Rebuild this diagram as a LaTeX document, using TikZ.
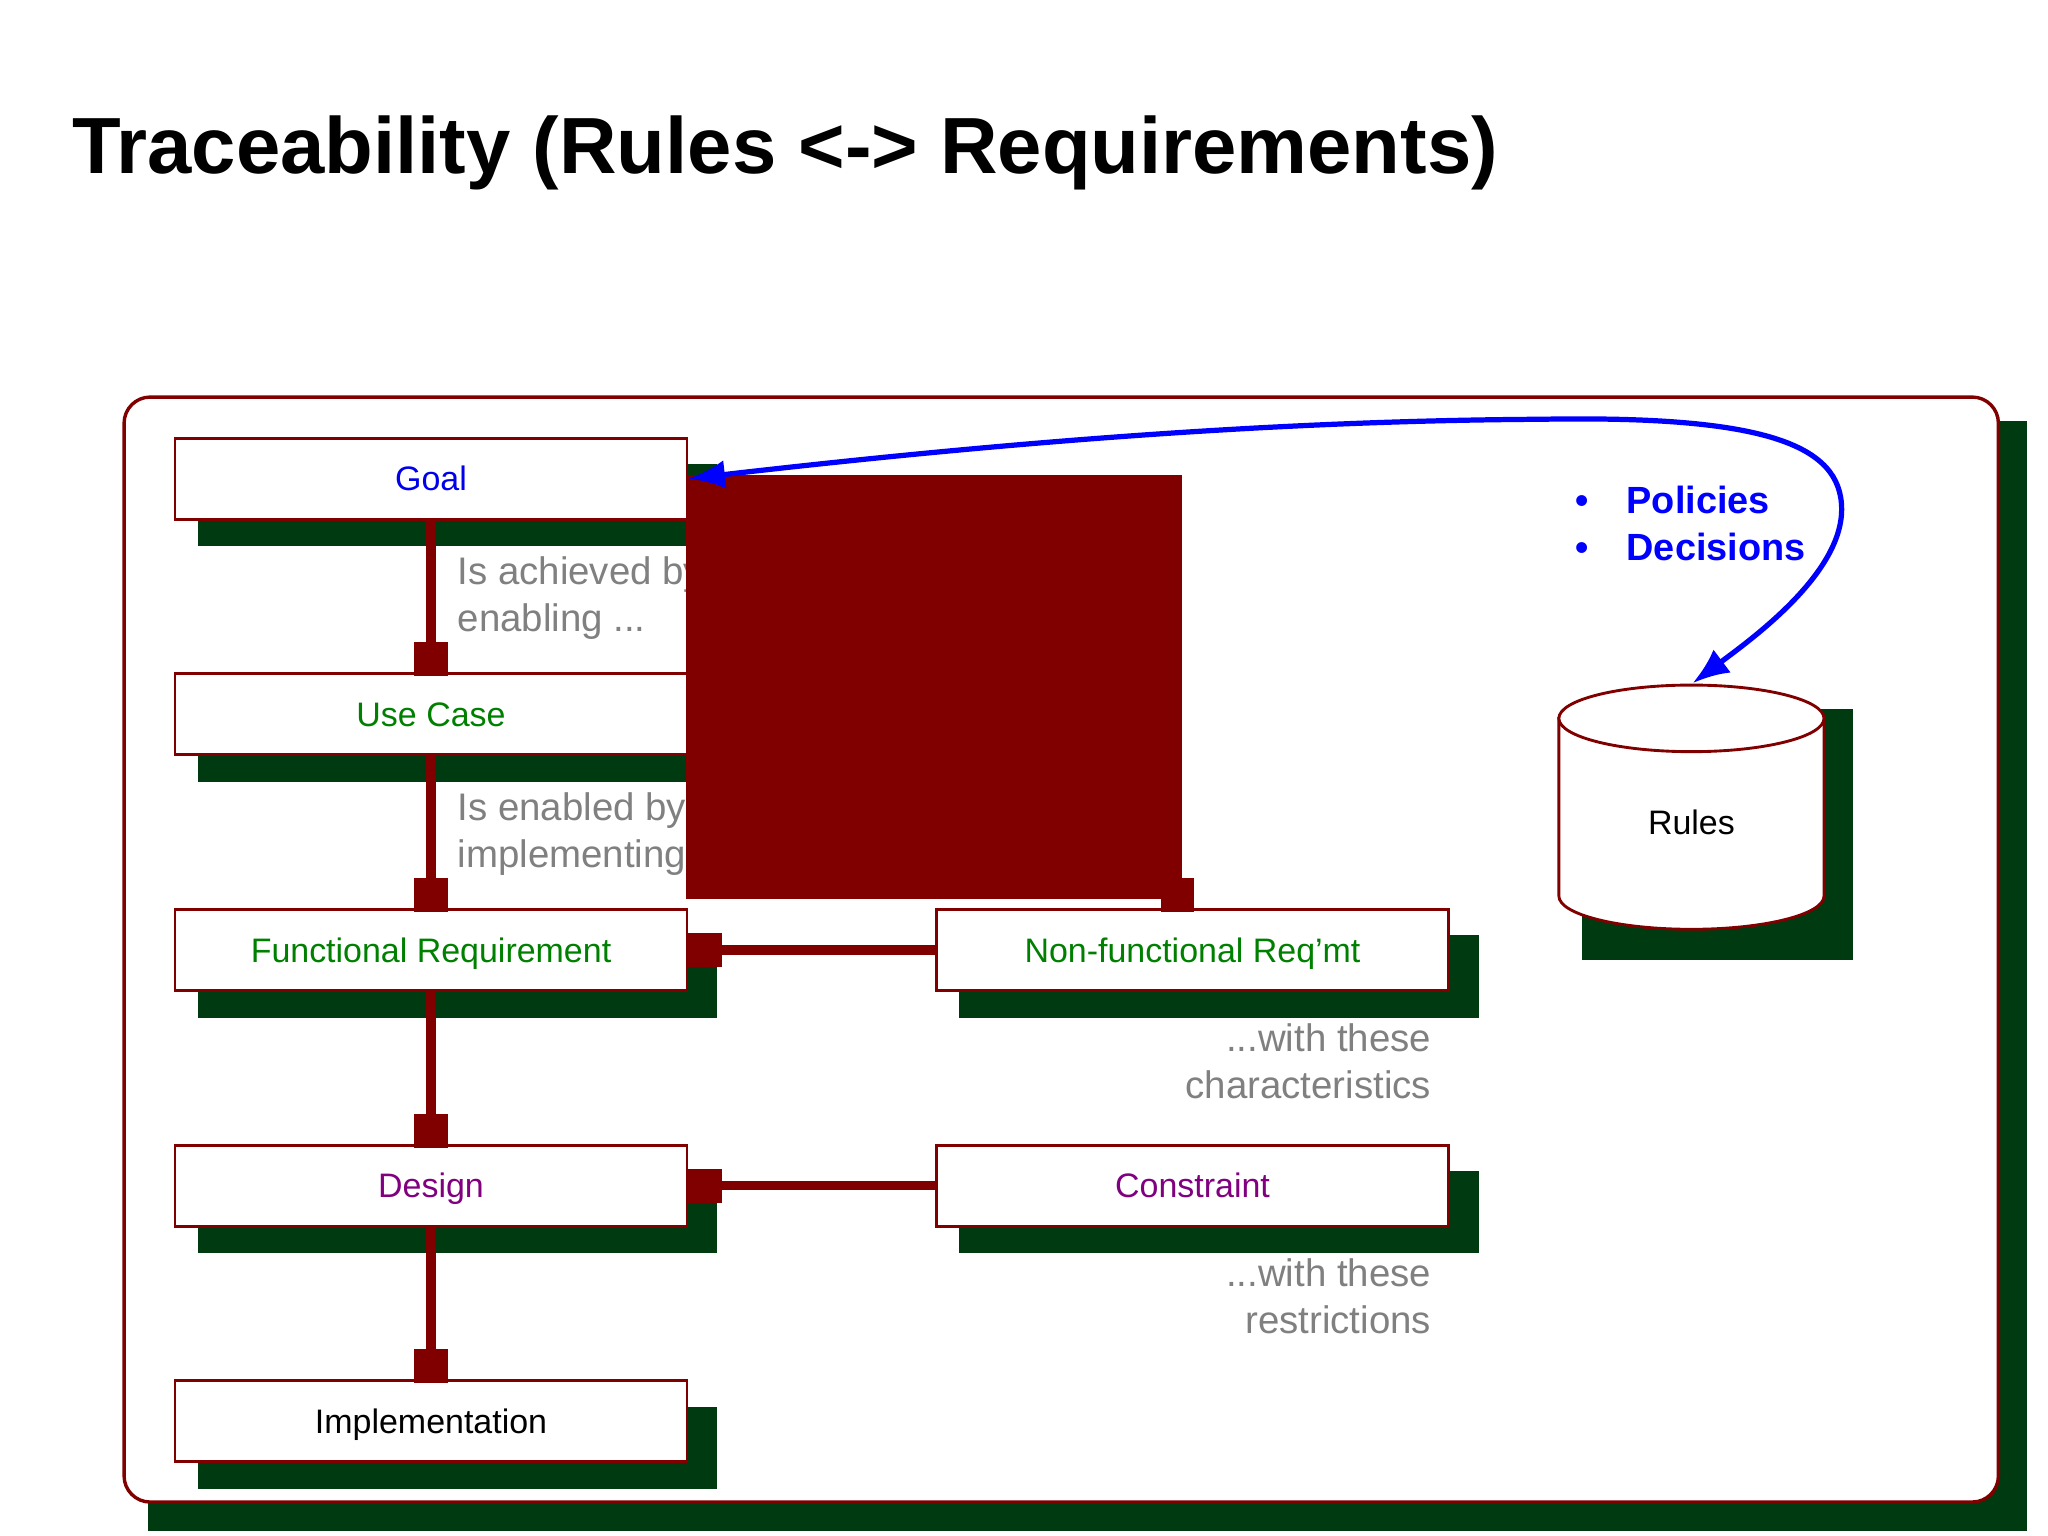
\documentclass[tikz,border=0pt]{standalone}
\usepackage{fontspec}
\setmainfont{Liberation Sans}
\usetikzlibrary{arrows.meta,positioning,shadows}

\definecolor{linkred}{RGB}{128,0,0}
\definecolor{shadowgreen}{RGB}{0,58,16}
\definecolor{labelgreen}{RGB}{0,128,0}
\definecolor{labelpurple}{RGB}{128,0,128}
\definecolor{notegray}{RGB}{128,128,128}
\definecolor{goalblue}{RGB}{0,0,235}

\tikzset{
  req/.style={draw=linkred, line width=1.1pt, fill=white, minimum width=196pt, minimum height=31pt,
    inner sep=0pt, text height=9.3pt, text depth=0pt, font=\fontsize{13}{15}\selectfont,
    drop shadow={shadow xshift=10pt, shadow yshift=-10pt, shadow scale=1.015, fill=shadowgreen, opacity=1}},
  link/.style={draw=linkred, line width=3.7pt, -{Square[length=13pt,width=13pt]}},
  vlink/.style={link, shorten >=-1.5pt},
  note/.style={text=notegray, inner sep=0pt, font=\fontsize{14.7}{18}\selectfont},
  store/.style={draw=linkred, line width=1.1pt, fill=white},
  policy/.style={draw=blue, line width=2pt, {Latex[length=14pt,width=11pt]}-{Latex[length=14pt,width=11pt]}},
  bulletitem/.style={text=blue, inner sep=0pt, anchor=base west, font=\bfseries\fontsize{14.5}{18}\selectfont},
  title/.style={inner sep=0pt, anchor=base west, font=\bfseries\fontsize{30.5}{36}\selectfont}
}

\begin{document}
\begin{tikzpicture}[x=0.5pt,y=-0.5pt,node distance=90.2pt and 291.5pt,on grid]
  \path[use as bounding box, fill=white] (0,0) rectangle (1568,1176);

  \node[title] (head) at (55,133) {Traceability (Rules <-> Requirements)};

  % frame
  \fill[shadowgreen] (113,322) rectangle (1552,1172);
  \draw[linkred, line width=1.3pt, fill=white, rounded corners=10pt] (95,304) rectangle (1530,1150);

  \node[req, text=goalblue]    (goal)     at (330,366.5) {Goal};
  \node[req, text=labelgreen]  (usecase)  [below=of goal] {Use Case};
  \node[req, text=labelgreen]  (fr)       [below=of usecase] {Functional Requirement};
  \node[req, text=labelpurple] (design)   [below=of fr] {Design};
  \node[req]                   (impl)     [below=of design] {Implementation};
  \node[req, text=labelgreen]  (nfr)      [right=of fr] {Non-functional Req’mt};
  \node[req, text=labelpurple] (con)      [right=of design] {Constraint};

  \node[note, anchor=north west, align=left]  (achieved) at (350,426) {Is achieved by\\enabling ...};
  \node[note, anchor=north west, align=left]  (enabled)  at (350,606.5) {Is enabled by\\implementing ...};
  \node[note, anchor=north east, align=right] (traits)   at (1096,783) {...with these\\characteristics};
  \node[note, anchor=north east, align=right] (limits)   at (1096,963) {...with these\\restrictions};

  \path (goal)    edge[vlink] (usecase)
        (usecase) edge[vlink] (fr)
        (fr)      edge[vlink] (design)
        (design)  edge[vlink] (impl)
        (nfr)     edge[link]  (fr)
        (con)     edge[link]  (design);

  % goal to non-functional
  \fill[linkred] ([shift={(-2,-2.5)}]goal.east) rectangle ([shift={(-8,-7)}]nfr.north);
  \coordinate (nfrdrop) at ([shift={(-11.5,-25)}]nfr.north);
  \draw[vlink] (nfrdrop) -- (nfrdrop |- nfr.north);

  % rules store
  \fill[shadowgreen] (1211,543) rectangle (1419,735);
  \filldraw[store] (1193.5,550) -- (1193.5,686) arc[start angle=180, end angle=360, x radius=50.75pt, y radius=12.75pt] -- (1396.5,550) -- cycle;
  \filldraw[store] (1295,550) ellipse [x radius=50.75pt, y radius=12.75pt];
  \node[font=\fontsize{13}{15}\selectfont] (rules) at (1295,629.6) {Rules};
  \coordinate (rulestop) at (1296,523);

  \node[bulletitem] (policies)  at (1206,393.4) {\textbullet\hspace{14.4pt}Policies};
  \node[bulletitem] (decisions) at (1206,429.4) {\textbullet\hspace{14.4pt}Decisions};

  \coordinate (peak)  at (1180,321);
  \coordinate (swing) at (1410,390);
  \draw[policy] (goal.east) .. controls (800,335) and (1000,322) .. (peak)
                .. controls (1350,318) and (1410,340) .. (swing)
                .. controls (1410,440) and (1340,490) .. (rulestop);
\end{tikzpicture}
\end{document}
